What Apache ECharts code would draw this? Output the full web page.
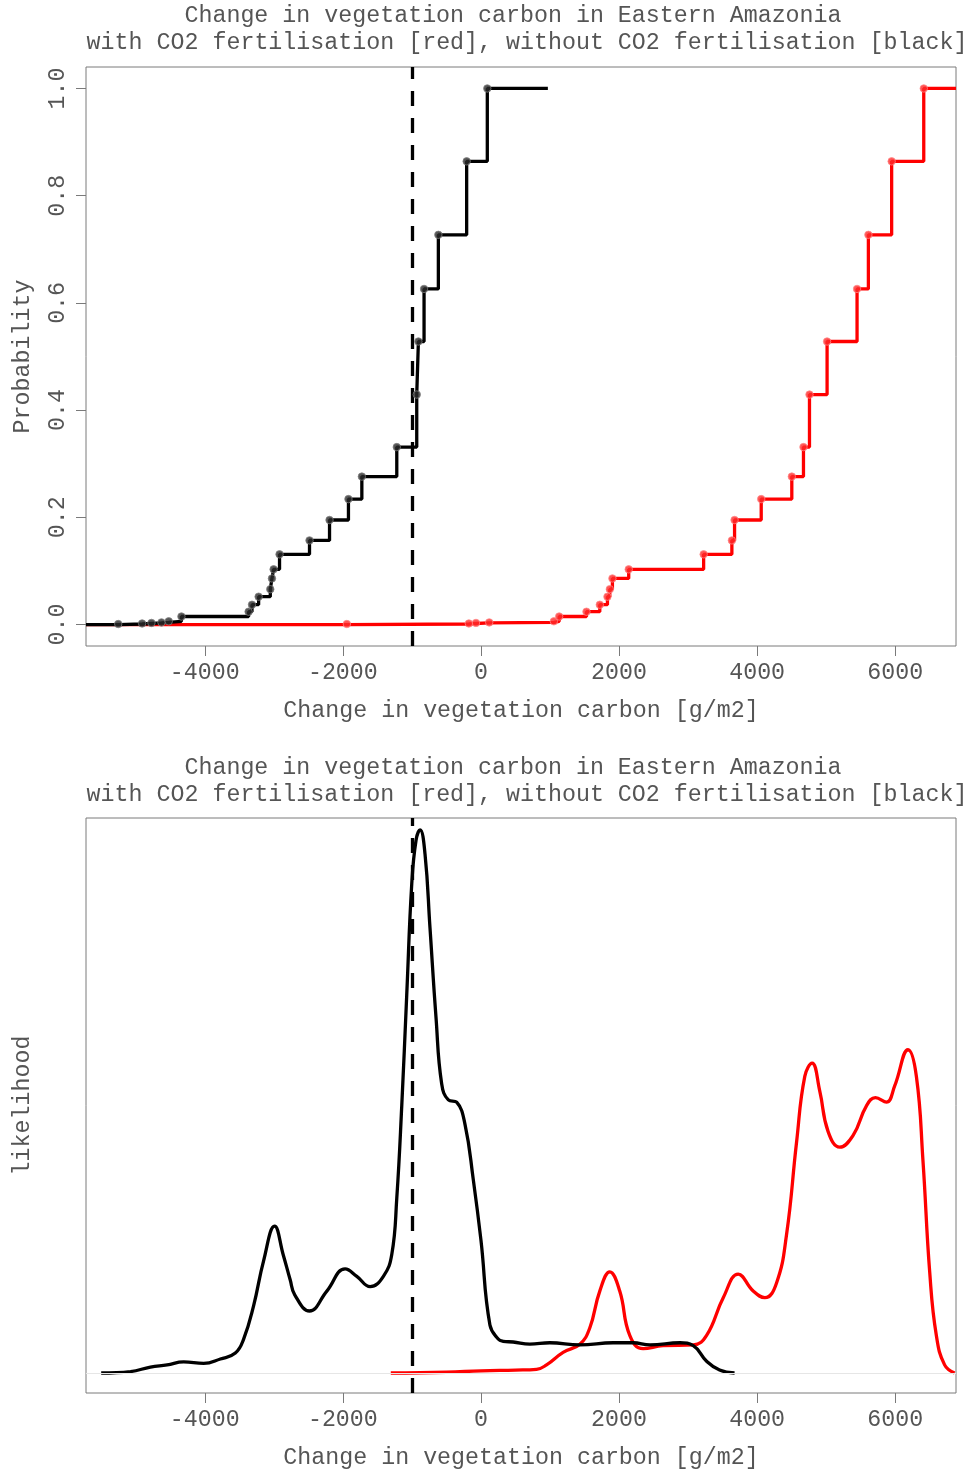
<!DOCTYPE html>
<html>
<head>
<meta charset="utf-8">
<script src="https://cdn.jsdelivr.net/npm/echarts@6/dist/echarts.min.js"></script>
<style>
  html, body { margin: 0; padding: 0; background: #ffffff; }
  #chart { width: 971px; height: 1473px; }
</style>
</head>
<body>
<div id="chart"></div>
<script>
// ---- text ----
const titleLine1 = 'Change in vegetation carbon in Eastern Amazonia';
const titleLine2 = 'with CO2 fertilisation [red], without CO2 fertilisation [black]';
const xAxisTitle = 'Change in vegetation carbon [g/m2]';
const probAxisTitle = 'Probability';
const densAxisTitle = 'likelihood';

// ---- tick values ----
const xTicks = [-4000, -2000, 0, 2000, 4000, 6000];
const probTicks = [0, 0.2, 0.4, 0.6, 0.8, 1.0];

// ---- weighted empirical CDF: cumulative probability of each sorted member ----
const cumProb = [0.001, 0.002, 0.003, 0.004, 0.006, 0.015, 0.024, 0.037, 0.052, 0.066, 0.086, 0.103,
                 0.131, 0.157, 0.195, 0.234, 0.276, 0.331, 0.429, 0.528, 0.626, 0.727, 0.864, 1.0];
// sorted change in vegetation carbon [g/m2], without CO2 fertilisation
const noFertSorted = [-5253, -4907, -4772, -4627, -4522, -4338, -3365, -3316, -3220, -3051, -3027, -3003,
                      -2917, -2483, -2193, -1919, -1725, -1219, -930, -906, -824, -617, -207, 92];
// sorted change in vegetation carbon [g/m2], with CO2 fertilisation
const withFertSorted = [-1942, -175, -72, 120, 1056, 1133, 1528, 1721, 1832, 1866, 1904, 2140,
                        3225, 3634, 3673, 4059, 4502, 4671, 4758, 5013, 5447, 5611, 5948, 6413];
const noFertStepEnd = 969;
const thresholdChange = -1000;

// ---- kernel density estimates (x in g/m2, likelihood in 1e-4 per g/m2) ----
const densNoFertX = [-5500, -5076, -4787, -4545, -4305, -4016, -3774, -3557, -3437, -3293, -3148, -2989,
                     -2863, -2762, -2697, -2483, -2232, -1967, -1798, -1605, -1413, -1291, -1219, -1147,
                     -1075, -1002, -940, -882, -810, -738, -651, -569, -472, -352, -231, -111, 0, 130,
                     250, 323, 467, 709, 998, 1432, 1914, 2203, 2449, 2883, 3075, 3268, 3456, 3673];
const densNoFertY = [0, 0.02, 0.08, 0.11, 0.15, 0.13, 0.19, 0.27, 0.46, 0.91, 1.52, 1.99,
                     1.60, 1.26, 1.06, 0.84, 1.11, 1.41, 1.31, 1.17, 1.31, 1.61, 2.37, 3.62,
                     5.12, 6.63, 7.22, 7.36, 7.03, 6.03, 4.82, 3.92, 3.70, 3.67, 3.37, 2.62, 1.80, 0.65,
                     0.46, 0.43, 0.42, 0.39, 0.41, 0.38, 0.41, 0.41, 0.38, 0.41, 0.37, 0.16, 0.04, 0];
const densWithFertX = [-1306, -500, 0, 500, 805, 950, 1190, 1432, 1576, 1721, 1866, 2010, 2155, 2348,
                       2637, 3075, 3268, 3509, 3726, 3943, 4112, 4281, 4425, 4570, 4690, 4796, 4907,
                       5028, 5197, 5390, 5583, 5713, 5872, 5992, 6185, 6306, 6402, 6499, 6595, 6715, 6860];
const densWithFertY = [0, 0.01, 0.03, 0.04, 0.05, 0.11, 0.28, 0.39, 0.61, 1.11, 1.37, 1.11, 0.51, 0.33,
                       0.37, 0.38, 0.51, 1.02, 1.34, 1.11, 1.02, 1.22, 1.87, 3.12, 4.02, 4.20, 3.82,
                       3.27, 3.06, 3.22, 3.62, 3.73, 3.67, 3.89, 4.38, 4.02, 2.87, 1.37, 0.51, 0.11, 0];

// ---- styling ----
const FONT = "'Liberation Mono', 'DejaVu Sans Mono', monospace";
const FONT_SIZE = 23.3;
const TEXT_COLOR = '#555555';
const FRAME_COLOR = '#7a7a7a';
const LINE_W = 3.3;
const X_MIN = -5720, X_MAX = 6880;

const zip = (xs, ys) => xs.map((x, i) => [x, ys[i]]);

// step line: starts at the left frame edge at zero, ends flat at probability 1
function ecdfLine(xs, endX) {
  return [[X_MIN, 0]].concat(zip(xs, cumProb)).concat([[endX, 1]]);
}

function xAxisFor(gridIndex) {
  return {
    type: 'value', gridIndex, min: X_MIN, max: X_MAX,
    axisLine: { show: false, onZero: false },
    splitLine: { show: false },
    axisTick: { show: true, length: 10, customValues: xTicks, lineStyle: { color: FRAME_COLOR, width: 1 } },
    axisLabel: { customValues: xTicks, margin: 15, color: TEXT_COLOR, fontFamily: FONT, fontSize: FONT_SIZE,
                 formatter: v => String(v) },
    name: xAxisTitle, nameLocation: 'middle', nameGap: 53,
    nameTextStyle: { color: TEXT_COLOR, fontFamily: FONT, fontSize: FONT_SIZE }
  };
}

const dashedThreshold = {
  silent: true, symbol: 'none', label: { show: false },
  lineStyle: { color: '#000', width: LINE_W, type: [15, 12], cap: 'butt' },
  data: [{ xAxis: thresholdChange }]
};

function titleText(text, x, y) {
  return { type: 'text', x, y, silent: true,
    style: { text, fill: TEXT_COLOR, font: FONT_SIZE + 'px ' + FONT, textAlign: 'center', textVerticalAlign: 'middle' } };
}

const chart = echarts.init(document.getElementById('chart'), null, { renderer: 'canvas' });

chart.setOption({
  animation: false,
  backgroundColor: '#ffffff',
  graphic: [
    titleText(titleLine1, 513, 16), titleText(titleLine2, 527, 43),
    titleText(titleLine1, 513, 768), titleText(titleLine2, 527, 795)
  ],
  grid: [
    { left: 86, top: 67, width: 870, height: 579, show: true, borderColor: FRAME_COLOR, borderWidth: 1, backgroundColor: 'transparent' },
    { left: 86, top: 818, width: 870, height: 575, show: true, borderColor: FRAME_COLOR, borderWidth: 1, backgroundColor: 'transparent' }
  ],
  xAxis: [xAxisFor(0), xAxisFor(1)],
  yAxis: [
    {
      type: 'value', gridIndex: 0, min: -0.04, max: 1.04,
      axisLine: { show: false, onZero: false }, splitLine: { show: false },
      axisTick: { show: true, length: 10, customValues: probTicks, lineStyle: { color: FRAME_COLOR, width: 1 } },
      axisLabel: { customValues: probTicks, rotate: 90, margin: 17, color: TEXT_COLOR, fontFamily: FONT, fontSize: FONT_SIZE,
                   formatter: v => Number(v).toFixed(1) },
      name: probAxisTitle, nameLocation: 'middle', nameGap: 52,
      nameTextStyle: { color: TEXT_COLOR, fontFamily: FONT, fontSize: FONT_SIZE }
    },
    {
      type: 'value', gridIndex: 1, min: -0.271, max: 7.52,
      axisLine: { show: false, onZero: false }, splitLine: { show: false },
      axisTick: { show: false }, axisLabel: { show: false },
      name: densAxisTitle, nameLocation: 'middle', nameGap: 52,
      nameTextStyle: { color: TEXT_COLOR, fontFamily: FONT, fontSize: FONT_SIZE }
    }
  ],
  series: [
    // ---- cumulative distributions ----
    {
      name: 'with CO2 fertilisation', type: 'line', xAxisIndex: 0, yAxisIndex: 0, step: 'end',
      data: ecdfLine(withFertSorted, X_MAX), showSymbol: false, silent: true, z: 2,
      lineStyle: { color: '#ff0000', width: LINE_W }
    },
    {
      type: 'scatter', xAxisIndex: 0, yAxisIndex: 0, data: zip(withFertSorted, cumProb), silent: true, z: 3,
      symbol: 'circle', symbolSize: 7.5,
      itemStyle: { color: '#ff2a2a', borderColor: 'rgba(255,140,140,0.9)', borderWidth: 1 }
    },
    {
      name: 'without CO2 fertilisation', type: 'line', xAxisIndex: 0, yAxisIndex: 0, step: 'end',
      data: ecdfLine(noFertSorted, noFertStepEnd), showSymbol: false, silent: true, z: 4,
      lineStyle: { color: '#000000', width: LINE_W },
      markLine: dashedThreshold
    },
    {
      type: 'scatter', xAxisIndex: 0, yAxisIndex: 0, data: zip(noFertSorted, cumProb), silent: true, z: 5,
      symbol: 'circle', symbolSize: 7.5,
      itemStyle: { color: '#2a2a2a', borderColor: 'rgba(130,130,130,0.9)', borderWidth: 1 }
    },
    // ---- likelihood curves ----
    {
      type: 'line', xAxisIndex: 1, yAxisIndex: 1, data: zip(densWithFertX, densWithFertY),
      smooth: 0.45, showSymbol: false, silent: true, z: 2,
      lineStyle: { color: '#ff0000', width: LINE_W },
      markLine: {
        silent: true, symbol: 'none', label: { show: false },
        lineStyle: { color: '#e6e6e6', width: 1, type: 'solid' },
        data: [{ yAxis: 0 }]
      }
    },
    {
      type: 'line', xAxisIndex: 1, yAxisIndex: 1, data: zip(densNoFertX, densNoFertY),
      smooth: 0.45, showSymbol: false, silent: true, z: 4,
      lineStyle: { color: '#000000', width: LINE_W },
      markLine: dashedThreshold
    }
  ]
});
</script>
</body>
</html>
